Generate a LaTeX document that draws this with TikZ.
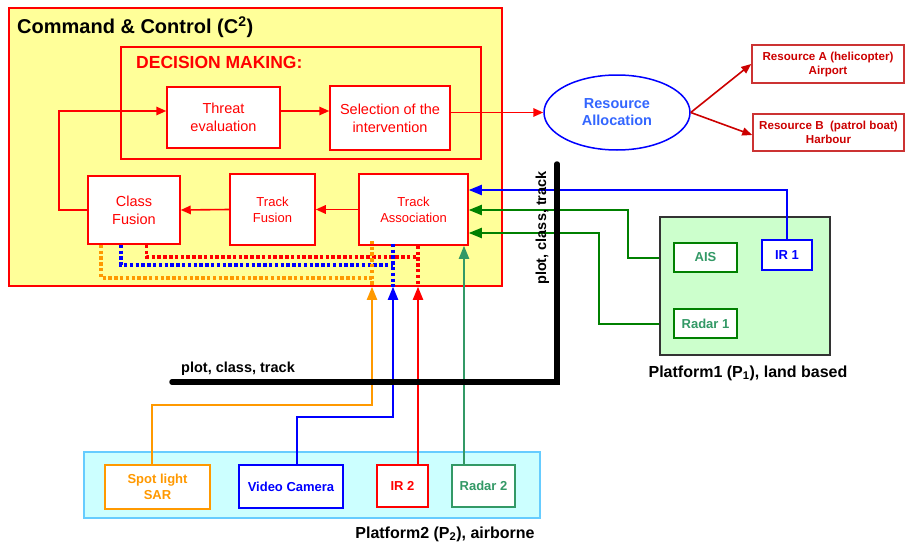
\documentclass[tikz,border=0pt]{standalone}
\usepackage{fontspec}
\setmainfont{Liberation Sans}
\usetikzlibrary{arrows.meta,shapes.geometric,calc}
\definecolor{cyellow}{HTML}{FFFF99}
\definecolor{cgreenfill}{HTML}{CCFFCC}
\definecolor{ccyan}{HTML}{CCFFFF}
\definecolor{ccyanb}{HTML}{66CCFF}
\definecolor{corange}{HTML}{FF9900}
\definecolor{cdgreen}{HTML}{008000}
\definecolor{csea}{HTML}{339966}
\definecolor{cdred}{HTML}{CC0000}
\definecolor{cresb}{HTML}{CC3333}
\definecolor{cblue}{HTML}{3366FF}
\definecolor{cgrey}{HTML}{333333}
\tikzset{
  tip/.style={-{Triangle[length=13pt,width=10pt]}},
  redtip/.style={-{Triangle[length=10pt,width=8.5pt]}},
  smalltip/.style={-{Triangle[length=10pt,width=8pt]}},
  redbox/.style={draw=red,fill=white,line width=1.5pt,text=red,align=center,inner sep=1pt},
  fbig/.style={font=\fontsize{14.5}{18}\selectfont},
  fmid/.style={font=\fontsize{13}{16}\selectfont},
  resbox/.style={draw=cresb,fill=white,line width=1.5pt,text=cdred,align=center,inner sep=1pt,font=\bfseries\fontsize{11.6}{14}\selectfont},
  sensor/.style={fill=white,line width=2pt,align=center,inner sep=1pt,font=\bfseries\fontsize{13}{16}\selectfont},
  conn/.style={line width=2pt},
  rconn/.style={line width=1.6pt},
  dashconn/.style={line width=3.2pt,dash pattern=on 3.5pt off 2.3pt},
  bus/.style={line width=5.5pt,line cap=round,line join=miter},
  lbl/.style={font=\bfseries\fontsize{14.5}{17}\selectfont,inner sep=0pt},
  plbl/.style={font=\bfseries\fontsize{16}{19}\selectfont,inner sep=0pt},
}
\begin{document}
\begin{tikzpicture}[x=1pt,y=-1pt]
\useasboundingbox (0,0) rectangle (905,546);
% Command & Control
\node[draw=red,fill=cyellow,line width=1.5pt,minimum width=493pt,minimum height=278pt,inner sep=0pt] (c2) at (255.5,147) {};
\node[anchor=west,inner sep=0pt,font=\bfseries\fontsize{20}{24}\selectfont] (c2t) at (17,27) {Command \& Control (C\textsuperscript{2})};
\node[draw=red,line width=1.5pt,minimum width=360pt,minimum height=112pt,inner sep=0pt] (dm) at (301,103) {};
\node[anchor=west,inner sep=0pt,text=red,font=\bfseries\fontsize{17.5}{21}\selectfont] (dmt) at (136,62) {DECISION MAKING:};
\node[redbox,fbig,minimum width=113pt,minimum height=61pt] (te) at (223.5,117.5) {Threat\\evaluation};
\node[redbox,fbig,minimum width=120pt,minimum height=64pt] (sel) at (390,118) {Selection of the\\intervention};
\node[redbox,fbig,minimum width=92pt,minimum height=68pt] (cf) at (134,210) {Class\\Fusion};
\node[redbox,fmid,minimum width=85pt,minimum height=71pt] (tf) at (272.5,209.5) {Track\\Fusion};
\node[redbox,fmid,minimum width=109pt,minimum height=71pt] (ta) at (413.5,209.5) {Track\\Association};
% resource allocation
\node[ellipse,draw=blue,line width=1.5pt,fill=white,minimum width=146pt,minimum height=75pt,inner sep=0pt,text=cblue,align=center,font=\bfseries\fontsize{14.5}{17}\selectfont] (ra) at (617,112.5) {Resource\\Allocation};
\node[resbox,minimum width=152pt,minimum height=38pt] (resA) at (828,64) {Resource A (helicopter)\\Airport};
\node[resbox,minimum width=151pt,minimum height=37pt] (resB) at (828.5,132.5) {Resource B\ \ (patrol boat)\\Harbour};
% platform 1
\node[draw=cgrey,fill=cgreenfill,line width=1.5pt,minimum width=170pt,minimum height=138pt,inner sep=0pt] (p1) at (745,286) {};
\node[sensor,draw=cdgreen,text=csea,minimum width=63pt,minimum height=29pt] (ais) at (705.5,257.5) {AIS};
\node[sensor,draw=cdgreen,text=csea,minimum width=63pt,minimum height=29pt] (r1) at (705.5,323.5) {Radar 1};
\node[sensor,draw=blue,text=blue,minimum width=50pt,minimum height=30pt] (ir1) at (787,255) {IR 1};
\node[plbl] (p1t) at (748,373) {Platform1 (P\textsubscript{1}), land based};
% platform 2
\node[draw=ccyanb,fill=ccyan,line width=1.5pt,minimum width=456pt,minimum height=66pt,inner sep=0pt] (p2) at (312,485) {};
\node[sensor,draw=corange,text=corange,minimum width=105pt,minimum height=44pt] (sar) at (157.5,487) {Spot light\\SAR};
\node[sensor,draw=blue,text=blue,minimum width=104pt,minimum height=43pt] (vc) at (291,486.5) {Video Camera};
\node[sensor,draw=red,text=red,minimum width=51pt,minimum height=42pt] (ir2) at (402.5,486) {IR 2};
\node[sensor,draw=csea,text=csea,minimum width=63pt,minimum height=42pt] (r2) at (483.5,486) {Radar 2};
\node[plbl] (p2t) at (445,534) {Platform2 (P\textsubscript{2}), airborne};
% coordinates
\coordinate (y111) at (0,111);
\coordinate (y190) at (0,190);
\coordinate (aisbend) at (628,210);
\coordinate (r1bend) at (599,233);
\coordinate (sarbend) at (372,405);
\coordinate (vcbend) at (393,417);
\coordinate (ir2x) at (418,0);
\coordinate (r2x) at (464,0);
\coordinate (loopx) at (59,0);
% internal connectors
\draw[rconn,red,redtip] (cf.west) -| (loopx |- y111) -- (te.west |- y111);
\draw[rconn,red,redtip] (te.east |- y111) -- (sel.west |- y111);
\draw[rconn,red,redtip] (sel.east |- ra.west) -- (ra.west);
\draw[rconn,cdred,smalltip] (ra.east) -- (resA.west);
\draw[rconn,cdred,smalltip] (ra.east) -- ([yshift=-2.5pt]resB.west);
\draw[rconn,red,redtip] (ta.west) -- (tf.east);
\draw[rconn,red,redtip] (tf.west) -- (cf.east);
% platform 1 connectors
\draw[conn,blue,tip] (ir1.north) |- (ta.east |- y190);
\draw[conn,cdgreen,tip] (p1.west |- ais.west) -| (aisbend) -- (ta.east |- aisbend);
\draw[conn,cdgreen,tip] (p1.west |- r1.west) -| (r1bend) -- (ta.east |- r1bend);
% dashed
\draw[dashconn,red] ([xshift=12.5pt]cf.south) |- (ir2x |- 0,257);
\draw[dashconn,blue] ([xshift=-13pt]cf.south) |- (vcbend |- 0,265);
\draw[dashconn,corange] ([xshift=-33pt]cf.south) |- (sarbend |- 0,278);
\draw[dashconn,red] (ir2x |- ta.south) -- (ir2x |- c2.south);
\draw[dashconn,blue] ([yshift=2pt]vcbend |- ta.south) -- (vcbend |- c2.south);
\draw[dashconn,corange] ([yshift=5pt]sarbend |- ta.south) -- (sarbend |- c2.south);
% platform 2 connectors
\draw[conn,corange,tip] ([xshift=-5.5pt]sar.north) |- (sarbend) -- (sarbend |- c2.south);
\draw[conn,blue,tip] ([xshift=6pt]vc.north) |- (vcbend) -- (vcbend |- c2.south);
\draw[conn,red,tip] (ir2x |- ir2.north) -- (ir2x |- c2.south);
\draw[conn,csea,tip] (r2x |- r2.north) -- (r2x |- ta.south);
% bus
\coordinate (busl) at (172,382);
\coordinate (busc) at (557,382);
\coordinate (bust) at (557,164);
\draw[bus] (busl) -- (busc) -- (bust);
\node[lbl,anchor=base west] (busl1) at (181,372) {plot, class, track};
\node[lbl,rotate=90,anchor=base] (busl2) at (546,228) {plot, class, track};
\end{tikzpicture}
\end{document}
